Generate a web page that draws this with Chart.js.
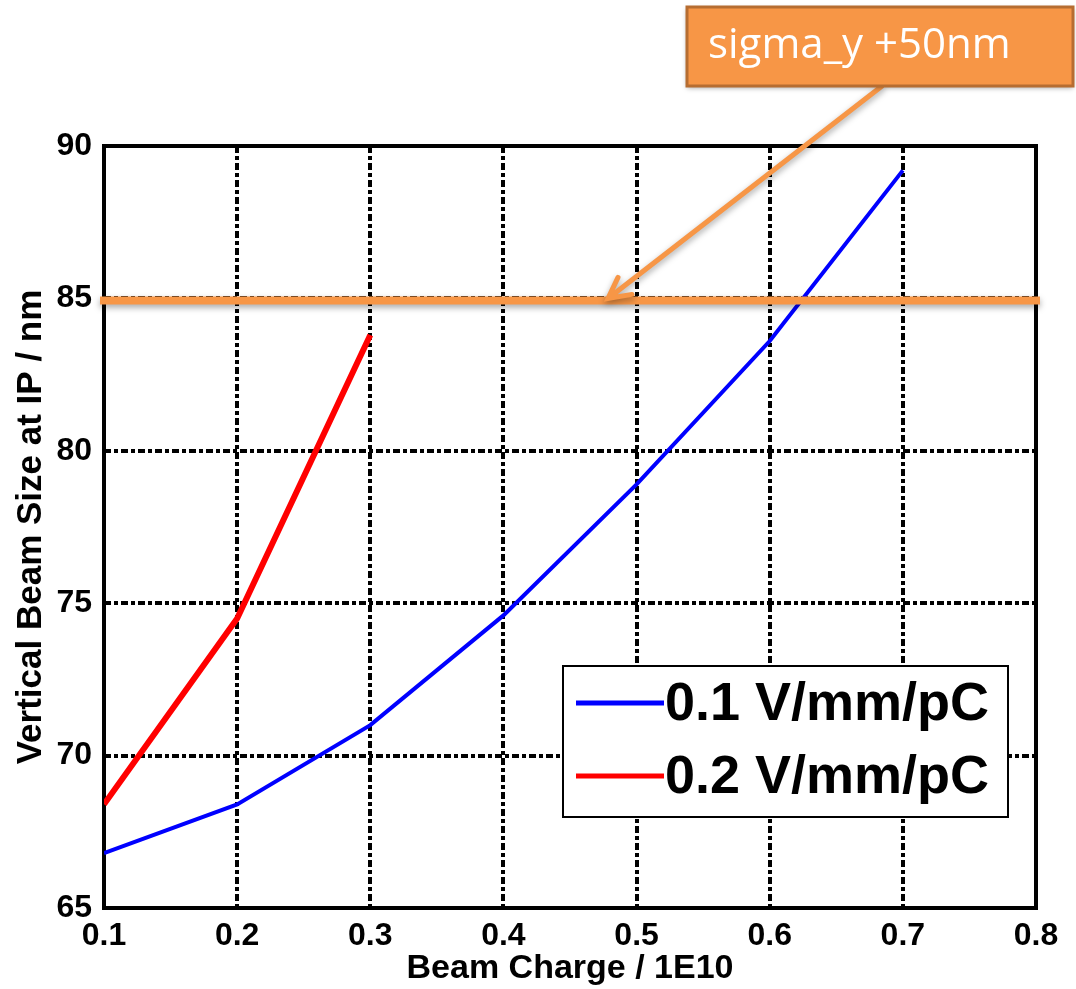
<!DOCTYPE html>
<html>
<head>
<meta charset="utf-8">
<script src="https://cdn.jsdelivr.net/npm/chart.js@4"></script>
<style>
  html, body { margin: 0; padding: 0; background: #fff; }
  #wrap { width: 1076px; height: 989px; position: relative; }
</style>
</head>
<body>
<div id="wrap"><canvas id="chart"></canvas></div>
<script>
// data
const chargeLow = [0.1, 0.2, 0.3, 0.4, 0.5, 0.6, 0.7];
const sizeLow = [66.8, 68.4, 71.0, 74.6, 78.9, 83.6, 89.2];
const chargeHigh = [0.1, 0.2, 0.3];
const sizeHigh = [68.4, 74.5, 83.8];
const seriesNames = ['0.1 V/mm/pC', '0.2 V/mm/pC'];
const xTicks = [0.1, 0.2, 0.3, 0.4, 0.5, 0.6, 0.7, 0.8];
const yTicks = [65, 70, 75, 80, 85, 90];
const limitValue = 85;
const limitNote = 'sigma_y +50nm';

const ORANGE = '#f79646';
const ORANGE_DARK = '#b66d31';
const FAMILY = '"Liberation Sans", Arial, sans-serif';
const TICK_FONT = { family: FAMILY, size: 32, weight: 'bold' };

const toPoints = (xs, ys) => xs.map((x, i) => ({ x, y: ys[i] }));

// white page
const background = {
  id: 'background',
  beforeDraw(chart) {
    const ctx = chart.ctx;
    ctx.save();
    ctx.fillStyle = '#fff';
    ctx.fillRect(0, 0, chart.width, chart.height);
    ctx.restore();
  }
};

// thick black frame round the plot
const frame = {
  id: 'frame',
  beforeDatasetsDraw(chart) {
    const { ctx, chartArea: a } = chart;
    ctx.save();
    ctx.setLineDash([]);
    ctx.strokeStyle = '#000';
    ctx.lineWidth = 4;
    ctx.strokeRect(a.left, a.top, a.right - a.left, a.bottom - a.top);
    ctx.restore();
  }
};

// boxed legend in the lower right
const boxLegend = {
  id: 'boxLegend',
  afterDatasetsDraw(chart) {
    const { ctx, chartArea: a } = chart;
    const left = a.right - 473, top = a.bottom - 242;
    const w = 445, h = 151;
    ctx.save();
    ctx.fillStyle = '#fff';
    ctx.fillRect(left, top, w, h);
    ctx.strokeStyle = '#000';
    ctx.lineWidth = 2;
    ctx.strokeRect(left, top, w, h);
    ctx.font = 'bold 54px ' + FAMILY;
    ctx.textBaseline = 'middle';
    chart.data.datasets.forEach((ds, i) => {
      const y = top + 37 + i * 73;
      ctx.strokeStyle = ds.borderColor;
      ctx.lineWidth = 5;
      ctx.beginPath();
      ctx.moveTo(left + 13, y);
      ctx.lineTo(left + 101, y);
      ctx.stroke();
      ctx.fillStyle = '#000';
      ctx.fillText(ds.label, left + 102, y + 2);
    });
    ctx.restore();
  }
};

// orange limit line, arrow and callout box
const callout = {
  id: 'callout',
  afterDraw(chart) {
    const { ctx, chartArea: a, scales } = chart;
    const y = scales.y.getPixelForValue(limitValue) + 2;
    ctx.save();
    ctx.setLineDash([]);
    ctx.shadowColor = 'rgba(0,0,0,0.35)';
    ctx.shadowBlur = 6;
    ctx.shadowOffsetY = 3;
    ctx.strokeStyle = ORANGE;
    ctx.lineWidth = 8;
    ctx.beginPath();
    ctx.moveTo(a.left - 4, y);
    ctx.lineTo(a.right + 4, y);
    ctx.stroke();

    // arrow
    const tipX = 608, tipY = y - 2;
    ctx.lineWidth = 5;
    ctx.lineCap = 'round';
    ctx.beginPath();
    ctx.moveTo(882, 86);
    ctx.lineTo(tipX, tipY);
    ctx.moveTo(tipX + 10, tipY - 21);
    ctx.lineTo(tipX, tipY);
    ctx.lineTo(tipX + 24, tipY - 4);
    ctx.stroke();

    // box
    ctx.shadowBlur = 5;
    ctx.shadowOffsetY = 2;
    ctx.fillStyle = ORANGE;
    ctx.fillRect(687, 7, 386, 79);
    ctx.shadowColor = 'transparent';
    ctx.strokeStyle = ORANGE_DARK;
    ctx.lineWidth = 3;
    ctx.strokeRect(687, 7, 386, 79);
    ctx.fillStyle = '#fff';
    ctx.font = '42px "Open Sans", sans-serif';
    ctx.textBaseline = 'middle';
    ctx.fillText(limitNote, 708, 46);
    ctx.restore();
  }
};

const gridDash = [7, 3, 4, 3];

new Chart(document.getElementById('chart'), {
  type: 'line',
  data: {
    datasets: [
      {
        label: seriesNames[0],
        data: toPoints(chargeLow, sizeLow),
        borderColor: '#0000ff',
        borderWidth: 4,
        pointRadius: 0,
        tension: 0,
        fill: false
      },
      {
        label: seriesNames[1],
        data: toPoints(chargeHigh, sizeHigh),
        borderColor: '#ff0000',
        borderWidth: 6,
        pointRadius: 0,
        tension: 0,
        fill: false
      }
    ]
  },
  options: {
    responsive: true,
    maintainAspectRatio: false,
    animation: false,
    layout: { padding: { left: 0, top: 146, right: 40, bottom: 0 } },
    plugins: {
      legend: { display: false },
      tooltip: { enabled: false }
    },
    scales: {
      x: {
        type: 'linear',
        min: 0.1,
        max: 0.8,
        afterBuildTicks: s => { s.ticks = xTicks.map(v => ({ value: v })); },
        afterFit: s => { s.height = 81; },
        grid: { color: '#000', lineWidth: 4, drawTicks: false },
        border: { display: false, dash: gridDash },
        ticks: {
          color: '#000',
          font: TICK_FONT,
          padding: 9,
          maxRotation: 0,
          callback: v => Number(v).toFixed(1)
        },
        title: {
          display: true,
          text: 'Beam Charge / 1E10',
          color: '#000',
          font: { family: FAMILY, size: 34, weight: 'bold' },
          padding: { top: 0, bottom: 0 }
        }
      },
      y: {
        min: 65,
        max: 90,
        afterBuildTicks: s => { s.ticks = yTicks.map(v => ({ value: v })); },
        afterFit: s => { s.width = 104; },
        grid: { color: '#000', lineWidth: 4, drawTicks: false },
        border: { display: false, dash: gridDash },
        ticks: {
          color: '#000',
          font: TICK_FONT,
          padding: 12,
          callback: v => String(v)
        },
        title: {
          display: true,
          text: 'Vertical Beam Size at IP / nm',
          color: '#000',
          font: { family: FAMILY, size: 35, weight: 'bold' },
          padding: { top: 10, bottom: 0 }
        }
      }
    }
  },
  plugins: [background, frame, boxLegend, callout]
});
</script>
</body>
</html>
